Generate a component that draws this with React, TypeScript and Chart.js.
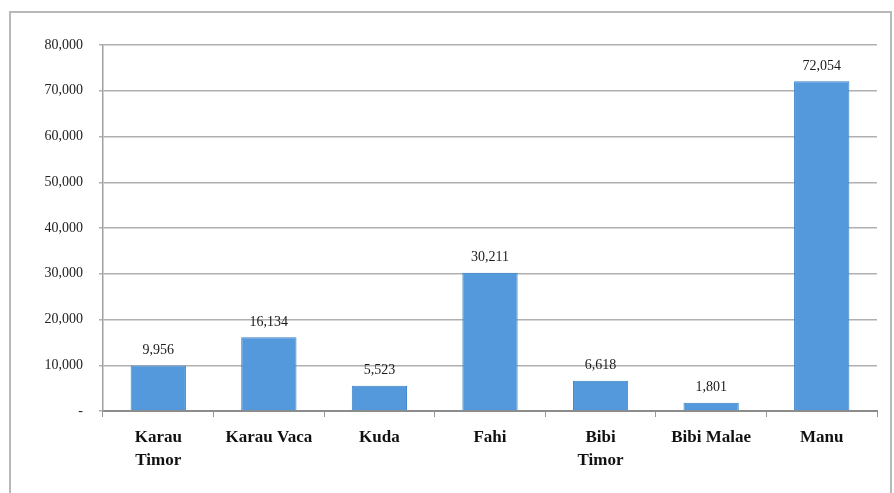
import React, { useEffect, useRef } from "react";
import { Chart, registerables } from "chart.js";

Chart.register(...registerables);

const categories: string[][] = [
  ["Karau", "Timor"],
  ["Karau Vaca"],
  ["Kuda"],
  ["Fahi"],
  ["Bibi", "Timor"],
  ["Bibi Malae"],
  ["Manu"],
];
const values: number[] = [9956, 16134, 5523, 30211, 6618, 1801, 72054];
const valueLabels: string[] = ["9,956", "16,134", "5,523", "30,211", "6,618", "1,801", "72,054"];

const SERIF = "'Liberation Serif', 'DejaVu Serif', serif";

const framePlugin = {
  id: "frame",
  beforeDraw(chart: any) {
    const ctx = chart.ctx;
    ctx.save();
    ctx.fillStyle = "#ffffff";
    ctx.fillRect(0, 0, chart.width, chart.height);
    ctx.strokeStyle = "#b8b8b8";
    ctx.lineWidth = 2;
    ctx.strokeRect(10, 12, 881, 490);
    ctx.restore();
  },
};

const labelPlugin = {
  id: "valueLabels",
  afterDatasetsDraw(chart: any) {
    const ctx = chart.ctx;
    const meta = chart.getDatasetMeta(0);
    ctx.save();
    ctx.font = `14px ${SERIF}`;
    ctx.fillStyle = "#1a1a1a";
    ctx.textAlign = "center";
    ctx.textBaseline = "bottom";
    meta.data.forEach((bar: any, i: number) => {
      ctx.fillText(valueLabels[i], bar.x, bar.y - 8);
    });
    ctx.restore();
  },
};

export default function App() {
  const ref = useRef<HTMLCanvasElement>(null);
  useEffect(() => {
    document.body.style.margin = "0";
    const chart = new Chart(ref.current!, {
      type: "bar",
      data: {
        labels: categories,
        datasets: [
          {
            data: values,
            backgroundColor: (c: any) => {
              const el = c.chart.getDatasetMeta(0).data[c.dataIndex];
              if (!el || el.width === undefined) return "#5499dc";
              const g = c.chart.ctx.createLinearGradient(el.x - el.width / 2, 0, el.x + el.width / 2, 0);
              g.addColorStop(0, "#4a8fd6");
              g.addColorStop(0.15, "#62a5e6");
              g.addColorStop(0.8, "#5a9de0");
              g.addColorStop(1, "#3f85cf");
              return g;
            },
            borderColor: "#3a80c8",
            borderWidth: 1,
            barPercentage: 0.5,
            categoryPercentage: 1,
          },
        ],
      },
      options: {
        animation: false,
        responsive: false,
        maintainAspectRatio: false,
        layout: { padding: { top: 45, right: 17, left: 0, bottom: 0 } },
        plugins: { legend: { display: false }, tooltip: { enabled: false } },
        scales: {
          x: {
            offset: true,
            grid: {
              drawOnChartArea: false,
              drawTicks: true,
              tickLength: 6,
              color: "#999",
              offset: true,
            },
            border: { color: "#8c8c8c", width: 2 },
            ticks: {
              color: "#111",
              font: { family: SERIF, size: 17, weight: "bold", lineHeight: 1.3 },
              padding: 10,
              maxRotation: 0,
              autoSkip: false,
            },
            afterFit(scale: any) {
              scale.height = 493 - 411;
            },
          },
          y: {
            min: 0,
            max: 80000,
            ticks: {
              stepSize: 10000,
              color: "#222",
              font: { family: SERIF, size: 14 },
              padding: 16,
              callback: (v: any) => (Number(v) === 0 ? "-" : Number(v).toLocaleString("en-US")),
            },
            grid: { color: "#b0b0b0", lineWidth: 1.5, tickLength: 4 },
            border: { color: "#a0a0a0", width: 1.5 },
            afterFit(scale: any) {
              scale.width = 103;
            },
          },
        },
      },
      plugins: [framePlugin, labelPlugin],
    } as any);
    return () => chart.destroy();
  }, []);
  return (
    <div style={{ width: 894, height: 493 }}>
      <canvas ref={ref} width={894} height={493} style={{ display: "block" }} />
    </div>
  );
}
